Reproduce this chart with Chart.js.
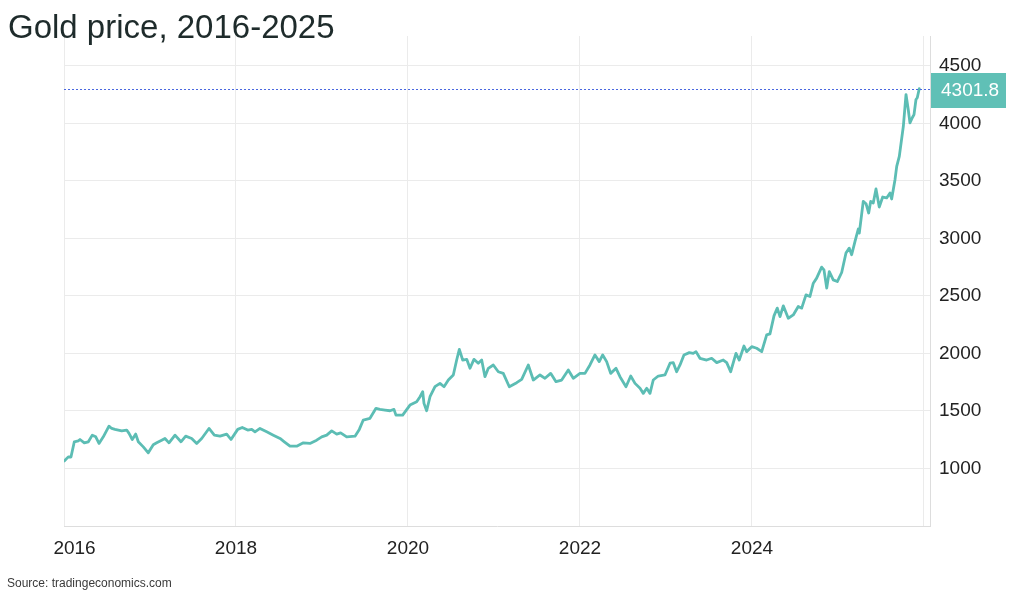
<!DOCTYPE html>
<html>
<head>
<meta charset="utf-8">
<title>Gold price, 2016-2025</title>
<script src="https://cdn.jsdelivr.net/npm/chart.js@4.4.1/dist/chart.umd.min.js"></script>
<style>
  html, body { margin: 0; padding: 0; background: #fff; }
  #wrap { position: relative; width: 1024px; height: 599px; overflow: hidden; }
  #title {
    position: absolute; left: 8px; top: 10px;
    font: 33px/33px "Liberation Sans", Arial, sans-serif;
    color: #1e2b2b; white-space: nowrap;
  }
  #source {
    position: absolute; left: 7px; top: 577px;
    font: 12px/12px "Liberation Sans", Arial, sans-serif;
    color: #3a3a3a; white-space: nowrap;
  }
  canvas { position: absolute; left: 0; top: 0; }
</style>
</head>
<body>
<div id="wrap">
  <canvas id="gold-chart" width="1024" height="599"></canvas>
  <div id="title">Gold price, 2016-2025</div>
  <div id="source">Source: tradingeconomics.com</div>
</div>
<script>
// dates as decimal years
const years = [
  2016.003, 2016.050, 2016.081, 2016.120, 2016.166, 2016.186, 2016.236, 2016.283, 2016.329, 2016.369,
  2016.407, 2016.457, 2016.523, 2016.555, 2016.593, 2016.671, 2016.729, 2016.756, 2016.794, 2016.834,
  2016.864, 2016.922, 2016.980, 2017.038, 2017.078, 2017.136, 2017.174, 2017.221, 2017.291, 2017.360,
  2017.415, 2017.485, 2017.543, 2017.601, 2017.686, 2017.748, 2017.814, 2017.892, 2017.942, 2018.020,
  2018.073, 2018.136, 2018.183, 2018.221, 2018.279, 2018.357, 2018.434, 2018.512, 2018.562, 2018.628,
  2018.706, 2018.783, 2018.860, 2018.938, 2018.997, 2019.055, 2019.113, 2019.171, 2019.217, 2019.287,
  2019.384, 2019.434, 2019.480, 2019.558, 2019.628, 2019.674, 2019.733, 2019.791, 2019.837, 2019.860,
  2019.938, 2020.023, 2020.101, 2020.140, 2020.171, 2020.186, 2020.217, 2020.256, 2020.314, 2020.372,
  2020.419, 2020.469, 2020.527, 2020.566, 2020.597, 2020.636, 2020.683, 2020.721, 2020.767, 2020.817,
  2020.857, 2020.895, 2020.934, 2020.992, 2021.050, 2021.108, 2021.178, 2021.264, 2021.322, 2021.399,
  2021.457, 2021.535, 2021.593, 2021.659, 2021.721, 2021.787, 2021.864, 2021.922, 2022.000, 2022.058,
  2022.116, 2022.174, 2022.224, 2022.264, 2022.310, 2022.357, 2022.419, 2022.465, 2022.535, 2022.590,
  2022.640, 2022.698, 2022.736, 2022.776, 2022.814, 2022.852, 2022.910, 2022.988, 2023.047, 2023.085,
  2023.124, 2023.163, 2023.209, 2023.271, 2023.317, 2023.349, 2023.395, 2023.473, 2023.531, 2023.590,
  2023.666, 2023.706, 2023.752, 2023.814, 2023.852, 2023.907, 2023.938, 2023.997, 2024.055, 2024.113,
  2024.171, 2024.209, 2024.256, 2024.294, 2024.326, 2024.364, 2024.422, 2024.480, 2024.538, 2024.578,
  2024.628, 2024.674, 2024.713, 2024.752, 2024.810, 2024.837, 2024.869, 2024.899, 2024.945, 2024.992,
  2025.043, 2025.093, 2025.131, 2025.159, 2025.198, 2025.236, 2025.248, 2025.294, 2025.326, 2025.357,
  2025.380, 2025.410, 2025.442, 2025.480, 2025.520, 2025.566, 2025.605, 2025.624, 2025.663, 2025.683,
  2025.713, 2025.760, 2025.791, 2025.817, 2025.837, 2025.864, 2025.884, 2025.907, 2025.922, 2025.945
];

// USD per troy ounce
const prices = [
  1066, 1101, 1100, 1232, 1240, 1252, 1223, 1232, 1290, 1275,
  1218, 1275, 1368, 1348, 1340, 1327, 1334, 1305, 1252, 1299,
  1232, 1188, 1136, 1206, 1223, 1246, 1261, 1223, 1290, 1232,
  1281, 1261, 1218, 1261, 1348, 1290, 1281, 1299, 1252, 1340,
  1357, 1334, 1340, 1319, 1348, 1319, 1290, 1261, 1232, 1194,
  1194, 1223, 1218, 1246, 1275, 1290, 1327, 1299, 1310, 1275,
  1281, 1340, 1421, 1436, 1523, 1514, 1508, 1502, 1514, 1464,
  1464, 1551, 1580, 1624, 1667, 1566, 1502, 1624, 1711, 1740,
  1711, 1769, 1813, 1943, 2036, 1943, 1949, 1871, 1949, 1915,
  1943, 1798, 1871, 1900, 1841, 1827, 1711, 1746, 1775, 1900,
  1769, 1813, 1784, 1827, 1755, 1769, 1856, 1784, 1827, 1827,
  1900, 1987, 1929, 1987, 1929, 1827, 1871, 1798, 1711, 1804,
  1740, 1697, 1653, 1697, 1653, 1769, 1804, 1813, 1915, 1920,
  1841, 1900, 1987, 2007, 2001, 2016, 1958, 1943, 1958, 1920,
  1943, 1920, 1841, 2001, 1943, 2065, 2016, 2059, 2045, 2016,
  2161, 2170, 2327, 2394, 2320, 2414, 2306, 2335, 2408, 2394,
  2509, 2495, 2611, 2655, 2751, 2727, 2568, 2712, 2640, 2625,
  2704, 2873, 2916, 2858, 2974, 3082, 3047, 3322, 3302, 3221,
  3322, 3308, 3430, 3273, 3360, 3352, 3395, 3343, 3511, 3627,
  3714, 3975, 4251, 4121, 4005, 4049, 4077, 4208, 4223, 4301.8
];

const xTickYears = [2016, 2018, 2020, 2022, 2024, 2026];
const yTickValues = [1000, 1500, 2000, 2500, 3000, 3500, 4000, 4500];

const lineColor = "#5cbdb4";
const gridColor = "#ebebeb";
const fontFamily = '"Liberation Sans", Arial, sans-serif';

// last value: dotted guide line plus the badge on the right axis
const lastValuePlugin = {
  id: "lastValue",
  afterDatasetsDraw(chart) {
    const { ctx, chartArea, scales } = chart;
    const last = prices[prices.length - 1];
    const y = Math.round(scales.y.getPixelForValue(last)) + 0.5;

    ctx.save();
    ctx.strokeStyle = "#4a68e0";
    ctx.lineWidth = 1;
    ctx.setLineDash([2, 2]);
    ctx.beginPath();
    ctx.moveTo(chartArea.left, y);
    ctx.lineTo(chartArea.right, y);
    ctx.stroke();
    ctx.setLineDash([]);

    ctx.fillStyle = "#60c0b6";
    ctx.fillRect(chartArea.right + 1, y - 16.5, 75, 35);
    ctx.fillStyle = "#ffffff";
    ctx.font = "19px " + fontFamily;
    ctx.textAlign = "left";
    ctx.textBaseline = "middle";
    ctx.fillText(last.toFixed(1), chartArea.right + 11, y + 1.5);
    ctx.restore();
  }
};

new Chart(document.getElementById("gold-chart"), {
  type: "line",
  data: {
    datasets: [
      {
        label: "Gold",
        data: years.map((yr, i) => ({ x: yr, y: prices[i] })),
        borderColor: lineColor,
        borderWidth: 2.8,
        borderJoinStyle: "round",
        borderCapStyle: "round",
        pointRadius: 0,
        tension: 0,
        fill: false
      }
    ]
  },
  options: {
    responsive: false,
    animation: false,
    layout: { padding: { left: 64, top: 36, right: 0, bottom: 33 } },
    plugins: {
      legend: { display: false },
      tooltip: { enabled: false }
    },
    scales: {
      x: {
        type: "linear",
        min: 2016,
        max: 2026.07,
        afterBuildTicks: (axis) => {
          axis.ticks = xTickYears.map((v) => ({ value: v }));
        },
        afterFit: (axis) => {
          axis.height = 40;
        },
        grid: { color: gridColor, drawTicks: false },
        border: { color: "#dddddd" },
        ticks: {
          padding: 11,
          maxRotation: 0,
          color: "#222222",
          font: { family: fontFamily, size: 19 },
          callback: (value) => {
            if (value === 2026) return "";
            if (value === 2016) return "    2016";
            return String(value);
          }
        }
      },
      y: {
        position: "right",
        min: 500,
        max: 4760,
        afterBuildTicks: (axis) => {
          axis.ticks = yTickValues.map((v) => ({ value: v }));
        },
        afterFit: (axis) => {
          axis.width = 94;
        },
        grid: { color: gridColor, drawTicks: false },
        border: { color: "#dddddd" },
        ticks: {
          padding: 9,
          color: "#222222",
          font: { family: fontFamily, size: 19 },
          callback: (value) => String(value)
        }
      }
    }
  },
  plugins: [lastValuePlugin]
});
</script>
</body>
</html>
